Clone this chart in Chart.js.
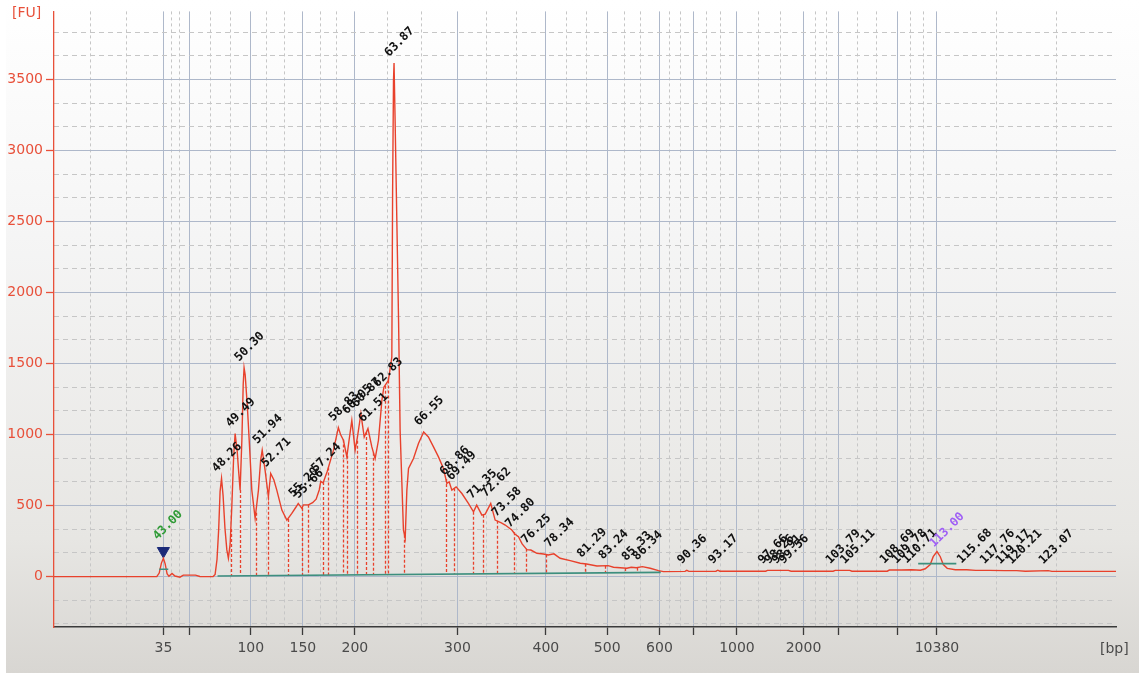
<!DOCTYPE html>
<html>
<head>
<meta charset="utf-8">
<script src="https://cdn.jsdelivr.net/npm/chart.js@4.4.1/dist/chart.umd.min.js"></script>
<style>
  body { margin: 0; background: #fff; width: 1139px; height: 677px; overflow: hidden; position: relative; }
  #panel { position: absolute; left: 6px; top: 0; width: 1133px; height: 673px;
    background: linear-gradient(to bottom, #ffffff 0%, #f5f5f5 35%, #e7e6e3 80%, #d8d6d2 100%); }
  #chart { position: absolute; left: 0; top: 0; }
  .unit { position: absolute; font: 14px "DejaVu Sans", sans-serif; }
</style>
</head>
<body>
<div id="panel"></div>
<canvas id="chart" width="1139" height="677"></canvas>
<div class="unit" style="left:12px; top:4px; color:#e8503a;">[FU]</div>
<div class="unit" style="left:1100px; top:640px; color:#4a4a4a;">[bp]</div>
<script>
// electropherogram trace: migration time (s) vs fluorescence (FU)
const traceTime = [33.1, 42.40, 42.62, 42.82, 43.00, 43.16, 43.33, 43.50, 43.78, 44.05, 44.50, 44.80, 45.90, 46.30, 47.50,
  47.68, 47.85, 48.00, 48.13, 48.26, 48.40, 48.57, 48.74, 48.88, 49.04, 49.19, 49.36, 49.49, 49.68, 49.79, 49.94,
  50.10, 50.22, 50.30, 50.40, 50.60, 50.78, 51.00, 51.30, 51.60, 51.80, 51.94, 52.20, 52.50, 52.71, 53.00, 53.26,
  53.72, 54.17, 54.62, 55.00, 55.20, 55.53, 55.66, 56.12, 56.50, 56.82, 57.10, 57.24, 57.45, 57.82, 58.39, 58.83,
  59.03, 59.29, 59.60, 59.80, 60.05, 60.35, 60.56, 60.87, 61.17, 61.51, 61.86, 62.16, 62.46, 62.77, 62.95, 63.36,
  63.67, 63.74, 63.82, 63.87, 63.96, 64.12, 64.28, 64.42, 64.72, 64.88, 65.03, 65.18, 65.63, 66.08, 66.55, 66.98,
  67.44, 67.89, 68.34, 68.65, 68.86, 69.10, 69.49, 70.01, 70.60, 71.06, 71.35, 71.82, 72.12, 72.62, 73.02, 73.58,
  73.93, 74.53, 74.80, 75.13, 75.46, 75.89, 76.25, 76.80, 77.39, 77.82, 78.34, 78.90, 79.81, 80.72, 81.29, 82.23,
  83.24, 83.73, 84.94, 85.33, 85.80, 86.34, 87.05, 87.80, 88.25, 90.20, 90.36, 90.55, 93.00, 93.17, 93.35, 97.50,
  97.66, 98.26, 98.91, 99.56, 99.80, 103.60, 103.79, 105.11, 105.30, 108.50, 108.69, 109.78, 110.71, 111.50, 111.94,
  112.39, 112.66, 113.00, 113.30, 113.57, 113.93, 114.66, 115.68, 116.50, 117.76, 119.17, 120.21, 121.00, 123.07,
  123.40, 129.2];
const traceFU = [0, 0, 25, 95, 129, 90, 20, 2, 22, 4, -4, 10, 10, 1, 0,
  15, 120, 330, 600, 691, 570, 340, 188, 129, 230, 492, 850, 1007, 880, 760, 609,
  960, 1350, 1470, 1420, 1194, 937, 609, 410, 609, 820, 890, 749, 562, 726, 680, 609,
  468, 398, 445, 490, 515, 480, 505, 505, 520, 545, 610, 670, 660, 740, 890, 1049,
  1000, 960, 843, 960, 1100, 890, 983, 1147, 983, 1042, 913, 831, 960, 1241, 1334, 1381,
  1545, 2700, 3488, 3617, 3242, 2519, 1800, 1030, 328, 270, 609, 761, 831, 937, 1018, 983,
  913, 843, 761, 656, 667, 609, 632, 585, 515, 456, 503, 433, 440, 515, 398, 378,
  363, 328, 300, 281, 230, 190, 187, 164, 159, 152, 160, 129, 112, 94, 89, 75,
  77, 66, 59, 66, 62, 70, 59, 42, 35, 37, 44, 37, 38, 45, 38, 38,
  44, 44, 44, 44, 38, 38, 44, 44, 38, 38, 46, 46, 48, 45, 55,
  85, 140, 176, 140, 85, 58, 48, 48, 44, 44, 42, 42, 38, 42,
  37, 37];

// called peaks (time label) and their heights
const peakTimes = [48.26, 49.49, 50.30, 51.94, 52.71, 55.20, 55.66, 57.24, 58.83, 60.05, 60.87, 61.51, 62.83, 63.87,
  66.55, 68.86, 69.49, 71.35, 72.62, 73.58, 74.80, 76.25, 78.34, 81.29, 83.24, 85.33, 86.34, 90.36, 93.17,
  97.66, 98.26, 98.91, 99.56, 103.79, 105.11, 108.69, 109.78, 110.71, 115.68, 117.76, 119.17, 120.21, 123.07];
const peakFU = [691, 1007, 1470, 890, 726, 515, 505, 690, 1049, 1100, 1147, 1042, 1290, 3617,
  1018, 667, 632, 503, 515, 378, 300, 187, 160, 89, 77, 66, 70, 44, 45,
  44, 44, 44, 44, 44, 44, 46, 46, 48, 48, 44, 42, 42, 42];

// peak region boundaries (dashed drop lines)
const boundaryTimes = [49.10, 49.94, 51.36, 52.50, 54.24, 55.55, 56.12, 57.48, 57.93, 59.26, 59.58, 60.50, 61.37,
  62.01, 63.04, 63.36, 64.81, 68.56, 69.31, 71.06, 71.96, 73.17, 74.68, 75.83, 77.64, 81.17, 82.98, 84.79,
  85.85, 87.89];

// markers: lower marker and upper marker
const markerTimes = [43.00, 113.00];
const markerFU = [129, 176];
const markerColors = ['#2e9a35', '#a060f5'];

// fitted baseline of the smear region
const baseTime = [47.9, 88.0];
const baseFU = [4, 30];

// x axis: times of ladder sizes and their bp labels
const bpTimes = [43.00, 45.35, 50.91, 55.62, 60.33, 69.61, 77.61, 83.16, 87.89, 90.97, 94.90, 100.92, 104.09, 109.40, 113.00];
const bpLabels = ['35', '', '100', '150', '200', '300', '400', '500', '600', '', '1000', '2000', '', '', '10380'];
const minorTimes = [36.37, 39.63, 43.70, 44.45, 47.23, 49.04, 52.36, 53.92, 57.18, 58.69, 63.31, 66.35, 72.27, 74.92,
  79.45, 81.32, 84.72, 86.17, 88.80, 89.83, 92.18, 93.38, 96.85, 98.81, 101.98, 103.04, 105.81, 107.57, 110.58,
  111.78, 118.36, 123.79];

const yTicks = [0, 500, 1000, 1500, 2000, 2500, 3000, 3500];
const yMinor = [];
for (let i = -2; i <= 23; i++) { if (i % 3 !== 0) yMinor.push(i * 500 / 3); }

const RED = '#e8412c';

function interp(xs, ys, t) {
  if (t <= xs[0]) return ys[0];
  for (let i = 1; i < xs.length; i++) {
    if (t <= xs[i]) {
      const f = (t - xs[i - 1]) / (xs[i] - xs[i - 1]);
      return ys[i - 1] + f * (ys[i] - ys[i - 1]);
    }
  }
  return ys[ys.length - 1];
}

const peakMarks = {
  id: 'peakMarks',
  beforeDatasetsDraw(chart) {
    const { ctx, scales: { x, y } } = chart;
    ctx.save();
    ctx.strokeStyle = RED;
    ctx.lineWidth = 1.3;
    ctx.setLineDash([3, 2]);
    boundaryTimes.forEach(t => {
      const px = Math.round(x.getPixelForValue(t)) + 0.5;
      ctx.beginPath();
      ctx.moveTo(px, y.getPixelForValue(interp(traceTime, traceFU, t)));
      ctx.lineTo(px, y.getPixelForValue(interp(baseTime, baseFU, t)));
      ctx.stroke();
    });
    ctx.restore();
  },
  afterDatasetsDraw(chart) {
    const { ctx, scales: { x, y } } = chart;
    ctx.save();
    ctx.font = 'bold 12px "DejaVu Sans Mono", monospace';
    ctx.textAlign = 'left';
    ctx.textBaseline = 'alphabetic';
    const label = (t, v, text, color, dx, dy) => {
      ctx.save();
      ctx.translate(x.getPixelForValue(t) + dx, y.getPixelForValue(v) + dy);
      ctx.rotate(-Math.PI / 4);
      ctx.fillStyle = color;
      ctx.fillText(text, 0, 0);
      ctx.restore();
    };
    peakTimes.forEach((t, i) => label(t, peakFU[i], t.toFixed(2), '#111111', -5, -6));
    label(markerTimes[0], markerFU[0], markerTimes[0].toFixed(2), markerColors[0], -6, -18);
    label(markerTimes[1], markerFU[1], markerTimes[1].toFixed(2), markerColors[1], -3, -4);
    ctx.restore();
  }
};

const tracePts = traceTime.map((t, i) => ({ x: t, y: traceFU[i] }));
const basePts = [
  { x: baseTime[0], y: baseFU[0] }, { x: baseTime[1], y: baseFU[1] }, { x: 88.1, y: null },
  { x: 42.62, y: 52 }, { x: 43.44, y: 52 }, { x: 43.5, y: null },
  { x: 111.3, y: 91 }, { x: 114.75, y: 91 }
];

new Chart(document.getElementById('chart'), {
  type: 'line',
  data: {
    datasets: [
      {
        label: 'baseline',
        data: basePts.sort((a, b) => a.x - b.x),
        borderColor: '#3d8f7e',
        borderWidth: 1.6,
        pointRadius: 0,
        spanGaps: false
      },
      {
        label: 'sample',
        data: tracePts,
        borderColor: RED,
        borderWidth: 1.4,
        pointRadius: 0,
        tension: 0
      },
      {
        label: 'marker',
        data: [{ x: markerTimes[0], y: 180 }],
        showLine: false,
        pointStyle: 'triangle',
        rotation: 180,
        pointRadius: 7,
        backgroundColor: '#1b2a78',
        borderColor: '#1b2a78'
      }
    ]
  },
  options: {
    responsive: false,
    animation: false,
    devicePixelRatio: 1,
    layout: { padding: { top: 10, right: 23, left: 0, bottom: 0 } },
    plugins: { legend: { display: false }, tooltip: { enabled: false } },
    scales: {
      x: {
        type: 'linear', min: 33.1, max: 129.2, position: 'bottom',
        afterBuildTicks: a => { a.ticks = bpTimes.map(v => ({ value: v })); },
        afterFit: a => { a.height = 50; },
        ticks: {
          autoSkip: false, maxRotation: 0, padding: 5, color: '#4a4a4a',
          font: { family: 'DejaVu Sans', size: 14 },
          callback: (v, i) => bpLabels[i]
        },
        grid: { color: '#aeb8ca', lineWidth: 1, tickLength: 8, tickColor: '#3a3a3a', tickWidth: 1.3 },
        border: { color: '#3a3a3a', width: 1.5 }
      },
      xm: {
        type: 'linear', min: 33.1, max: 129.2, position: 'bottom',
        afterBuildTicks: a => { a.ticks = minorTimes.map(v => ({ value: v })); },
        afterFit: a => { a.height = 0; },
        ticks: { display: false },
        grid: { color: '#c6c6c6', lineWidth: 1, drawTicks: false },
        border: { display: false, dash: [3, 3] }
      },
      y: {
        min: -355, max: 3980, position: 'left',
        afterBuildTicks: a => { a.ticks = yTicks.map(v => ({ value: v })); },
        afterFit: a => { a.width = 54; },
        ticks: { padding: 3, color: '#e8503a', font: { family: 'DejaVu Sans', size: 14 }, callback: v => String(v) },
        grid: { color: '#aeb8ca', lineWidth: 1, tickLength: 8, tickColor: '#e8503a', tickWidth: 1.3 },
        border: { color: '#e8503a', width: 1.3 }
      },
      ym: {
        min: -355, max: 3980, position: 'left',
        afterBuildTicks: a => { a.ticks = yMinor.map(v => ({ value: v })); },
        afterFit: a => { a.width = 0; },
        ticks: { display: false },
        grid: { color: '#c6c6c6', lineWidth: 1, drawTicks: false },
        border: { display: false, dash: [5, 4] }
      }
    }
  },
  plugins: [peakMarks]
});
</script>
</body>
</html>
